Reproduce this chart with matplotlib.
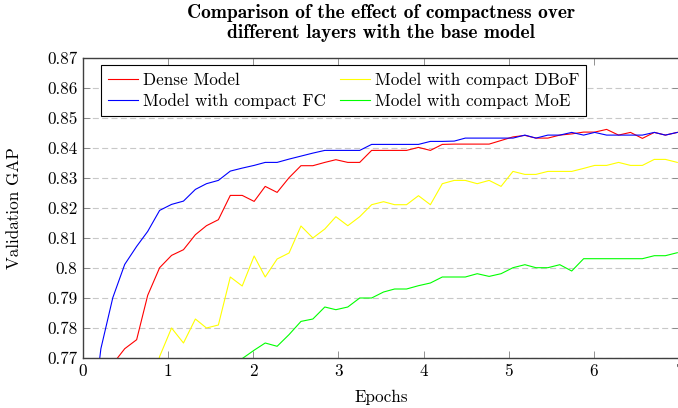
import numpy as np
import matplotlib
matplotlib.use("Agg")
import matplotlib.pyplot as plt

plt.rcParams['font.family'] = ['cmr10', 'DejaVu Serif']
plt.rcParams['mathtext.fontset'] = 'cm'
plt.rcParams['axes.formatter.use_mathtext'] = True

nan = np.nan

# evaluation points (epochs)
epochs = [0.07, 0.21, 0.35, 0.49, 0.63, 0.76, 0.90, 1.04, 1.18, 1.32,
          1.45, 1.59, 1.73, 1.87, 2.01, 2.14, 2.28, 2.42, 2.56, 2.70,
          2.84, 2.97, 3.11, 3.25, 3.39, 3.53, 3.66, 3.80, 3.94, 4.08,
          4.22, 4.36, 4.49, 4.63, 4.77, 4.91, 5.05, 5.19, 5.32, 5.46,
          5.60, 5.74, 5.88, 6.01, 6.15, 6.29, 6.43, 6.57, 6.71, 6.84, 6.98]

dense = [0.755, 0.762, 0.768, 0.7731, 0.7761, 0.7909, 0.8001, 0.8042, 0.8061, 0.8111,
         0.8141, 0.8161, 0.8242, 0.8242, 0.8222, 0.8272, 0.8252, 0.8301, 0.8341, 0.8341,
         0.8352, 0.8361, 0.8352, 0.8352, 0.8392, 0.8392, 0.8392, 0.8392, 0.8402, 0.8392,
         0.8412, 0.8413, 0.8413, 0.8413, 0.8413, 0.8425, 0.8437, 0.8442, 0.8433, 0.8433,
         0.8443, 0.8447, 0.8453, 0.8453, 0.8462, 0.8443, 0.8452, 0.8432, 0.8452, 0.8443, 0.8452]

fc = [0.74, 0.7731, 0.7901, 0.8012, 0.8072, 0.8122, 0.8192, 0.8212, 0.8223, 0.8262,
      0.8281, 0.8292, 0.8323, 0.8333, 0.8342, 0.8352, 0.8352, 0.8363, 0.8373, 0.8383,
      0.8392, 0.8392, 0.8392, 0.8392, 0.8412, 0.8412, 0.8412, 0.8412, 0.8412, 0.8422,
      0.8422, 0.8423, 0.8433, 0.8433, 0.8433, 0.8433, 0.8433, 0.8443, 0.8433, 0.8443,
      0.8443, 0.8452, 0.8443, 0.8452, 0.8443, 0.8443, 0.8443, 0.8443, 0.8452, 0.8443, 0.8452]

dbof = [nan, nan, nan, nan, nan, 0.755, 0.7705, 0.780, 0.775, 0.783,
        0.780, 0.781, 0.797, 0.794, 0.804, 0.797, 0.803, 0.805, 0.814, 0.810,
        0.813, 0.8171, 0.8141, 0.8171, 0.8211, 0.8221, 0.8211, 0.8211, 0.8241, 0.8211,
        0.8281, 0.8292, 0.8292, 0.8281, 0.8292, 0.8272, 0.8322, 0.8312, 0.8312, 0.8322,
        0.8322, 0.8322, 0.8332, 0.8342, 0.8342, 0.8352, 0.8342, 0.8342, 0.8362, 0.8362, 0.8352]

moe = [nan, nan, nan, nan, nan, nan, nan, nan, nan, nan,
       nan, nan, 0.765, 0.7698, 0.7726, 0.775, 0.7739, 0.7778, 0.7822, 0.783,
       0.787, 0.7861, 0.787, 0.790, 0.790, 0.792, 0.793, 0.793, 0.7941, 0.795,
       0.797, 0.797, 0.797, 0.7981, 0.7972, 0.7981, 0.8001, 0.8011, 0.8001, 0.8001,
       0.8011, 0.799, 0.8031, 0.8031, 0.8031, 0.8031, 0.8031, 0.8031, 0.8041, 0.8041, 0.8051]

y_ticks = [0.77, 0.78, 0.79, 0.80, 0.81, 0.82, 0.83, 0.84, 0.85, 0.86, 0.87]
y_labels = ['0.77', '0.78', '0.79', '0.8', '0.81', '0.82', '0.83', '0.84', '0.85', '0.86', '0.87']
x_ticks = [0, 1, 2, 3, 4, 5, 6, 7]

fs = 12.3

fig = plt.figure(figsize=(6.78, 4.08), dpi=100)
ax = fig.add_axes([83/678, 50/408, 596/678, 300/408])

lw = 0.8
ax.plot(epochs, dense, color='#ff0000', lw=lw, label='Dense Model')
ax.plot(epochs, fc, color='#0000ff', lw=lw, label='Model with compact FC')
ax.plot(epochs, dbof, color='#ffff00', lw=lw, label='Model with compact DBoF')
ax.plot(epochs, moe, color='#00ff00', lw=lw, label='Model with compact MoE')

ax.set_xlim(0, 7)
ax.set_ylim(0.77, 0.87)
ax.set_xticks(x_ticks)
ax.set_xticklabels([str(t) for t in x_ticks])
ax.set_yticks(y_ticks)
ax.set_yticklabels(y_labels)
ax.yaxis.grid(True, color='#c8c8c8', lw=0.8, ls=(0, (5.4, 3.0)))
ax.set_axisbelow(True)
ax.tick_params(direction='in', length=5, width=0.6, color='#808080',
               top=True, right=True, labelsize=fs, labelcolor='black', pad=4)
for s in ax.spines.values():
    s.set_color('#404040')
    s.set_linewidth(1.0)

ax.set_xlabel('Epochs', fontsize=fs)
ax.xaxis.set_label_coords(0.5, -0.105)
ax.xaxis.label.set_va('top')
ax.set_ylabel('Validation GAP', fontsize=fs)
ax.yaxis.set_label_coords(-0.103, 0.5)

fig.text(381/678, 1 - 4/408,
         'Comparison of the effect of compactness over\ndifferent layers with the base model',
         ha='center', va='top', fontsize=14, fontfamily='cmb10', linespacing=1.15)

leg = ax.legend(loc='upper left', bbox_to_anchor=(0.030, 0.976), borderaxespad=0,
                ncol=2, fontsize=fs, handlelength=1.8, handletextpad=0.27,
                columnspacing=0.8, labelspacing=0.3, fancybox=False,
                framealpha=1, edgecolor='black', borderpad=0.4)
leg.get_frame().set_linewidth(0.8)

fig.savefig('out.png', dpi=100)
